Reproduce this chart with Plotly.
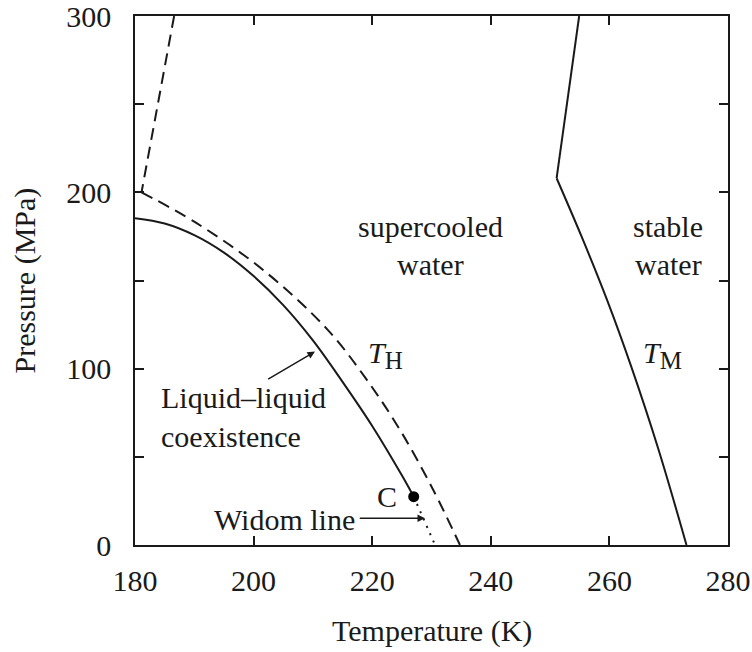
import plotly.graph_objects as go

# T_H line (dashed): steep upper branch and curved lower branch
TH_upper_T = [186.6, 181.1]
TH_upper_P = [300, 200]
TH_T = [181.1, 190.4, 201.6, 212.5, 219.1, 224.7, 230.3, 234.8]
TH_P = [200, 182.5, 156, 122, 93.6, 65.2, 31.2, 0]

# Liquid-liquid coexistence (solid) ending at critical point C
LL_T = [180, 185, 190, 195, 200, 205, 210, 215, 220, 225, 227.0]
LL_P = [185.3, 182.3, 175.7, 165.8, 152.5, 136, 116, 92.5, 67.5, 39.5, 27.4]

# Widom line (dotted)
W_T = [227.0, 230.6]
W_P = [27.4, 0]

# Critical point C
C_T = [227.0]
C_P = [27.4]

# Melting line T_M (solid)
TM_upper_T = [254.9, 251.1]
TM_upper_P = [300, 208]
TM_T = [251.1, 255.3, 259.6, 263.7, 268.2, 273.0]
TM_P = [208, 175, 139, 101, 55, 0]

x_ticks = [180, 200, 220, 240, 260, 280]
x_labels = ["180", "200", "220", "240", "260", "280"]
y_ticks = [0, 50, 100, 150, 200, 250, 300]
y_labels = ["0", "", "100", "", "200", "", "300"]

FONT = "Liberation Serif, Times New Roman, serif"
INK = "#1a1a1a"
FS = 30

fig = go.Figure()
fig.add_trace(go.Scatter(x=TH_upper_T, y=TH_upper_P, mode="lines",
                         line=dict(color=INK, width=2, dash="12px,7px")))
fig.add_trace(go.Scatter(x=TH_T, y=TH_P, mode="lines",
                         line=dict(color=INK, width=2, dash="12px,7px", shape="spline", smoothing=1.0)))
fig.add_trace(go.Scatter(x=LL_T, y=LL_P, mode="lines",
                         line=dict(color=INK, width=2, shape="spline", smoothing=1.0)))
fig.add_trace(go.Scatter(x=W_T, y=W_P, mode="lines",
                         line=dict(color=INK, width=2, dash="2px,6px")))
fig.add_trace(go.Scatter(x=TM_upper_T, y=TM_upper_P, mode="lines",
                         line=dict(color=INK, width=2)))
fig.add_trace(go.Scatter(x=TM_T, y=TM_P, mode="lines",
                         line=dict(color=INK, width=2, shape="spline", smoothing=1.0)))
fig.add_trace(go.Scatter(x=C_T, y=C_P, mode="markers",
                         marker=dict(color="black", size=11)))

tf = dict(family=FONT, size=FS, color=INK)

def txt(x, y, s, xanchor="center", yanchor="middle"):
    fig.add_annotation(x=x, y=y, xref="x", yref="y", text=s, showarrow=False,
                       xanchor=xanchor, yanchor=yanchor, font=tf)

txt(229.9, 180.4, "supercooled")
txt(229.9, 158.8, "water")
txt(269.9, 180.4, "stable")
txt(269.9, 158.8, "water")
txt(219.0, 107.8, "<i>T</i><sub><span style='font-size:25px'>H</span></sub>", xanchor="left")
txt(265.4, 107.8, "<i>T</i><sub><span style='font-size:25px'>M</span></sub>", xanchor="left")
txt(184.05, 83.4, "Liquid–liquid", xanchor="left")
txt(184.05, 61.3, "coexistence", xanchor="left")
txt(222.45, 27.4, "C")
txt(217.4, 14.2, "Widom line", xanchor="right")

# arrows
fig.add_annotation(x=210.35, y=109.7, ax=202.2, ay=93.6, xref="x", yref="y",
                   axref="x", ayref="y", showarrow=True, arrowhead=2,
                   arrowsize=1, arrowwidth=1.5, arrowcolor=INK, text="")
fig.add_annotation(x=228.9, y=15.1, ax=217.65, ay=15.1, xref="x", yref="y",
                   axref="x", ayref="y", showarrow=True, arrowhead=2,
                   arrowsize=1, arrowwidth=1.5, arrowcolor=INK, text="")

# axis titles
fig.add_annotation(x=0.5, y=0, xref="paper", yref="paper", yshift=-86,
                   text="Temperature (K)", showarrow=False, xanchor="center",
                   yanchor="middle", font=tf)
fig.add_annotation(x=0, y=0.5, xref="paper", yref="paper", xshift=-111,
                   text="Pressure (MPa)", showarrow=False, textangle=-90,
                   xanchor="center", yanchor="middle", font=tf)

axis_common = dict(showline=True, linecolor=INK, linewidth=1.5, mirror="ticks",
                   ticks="inside", ticklen=9, tickwidth=1.5, tickcolor=INK,
                   showgrid=False, zeroline=False, tickfont=tf,
                   automargin=False, ticklabeloverflow="allow")

fig.update_layout(
    width=752, height=652,
    margin=dict(l=135, r=24, t=16, b=107),
    paper_bgcolor="white", plot_bgcolor="white",
    showlegend=False,
    xaxis=dict(range=[180, 280], tickvals=x_ticks, ticktext=x_labels,
               ticklabelstandoff=8, **axis_common),
    yaxis=dict(range=[0, 300], tickvals=y_ticks, ticktext=y_labels,
               ticklabelstandoff=16, **axis_common),
)

fig.write_html("out.html")
